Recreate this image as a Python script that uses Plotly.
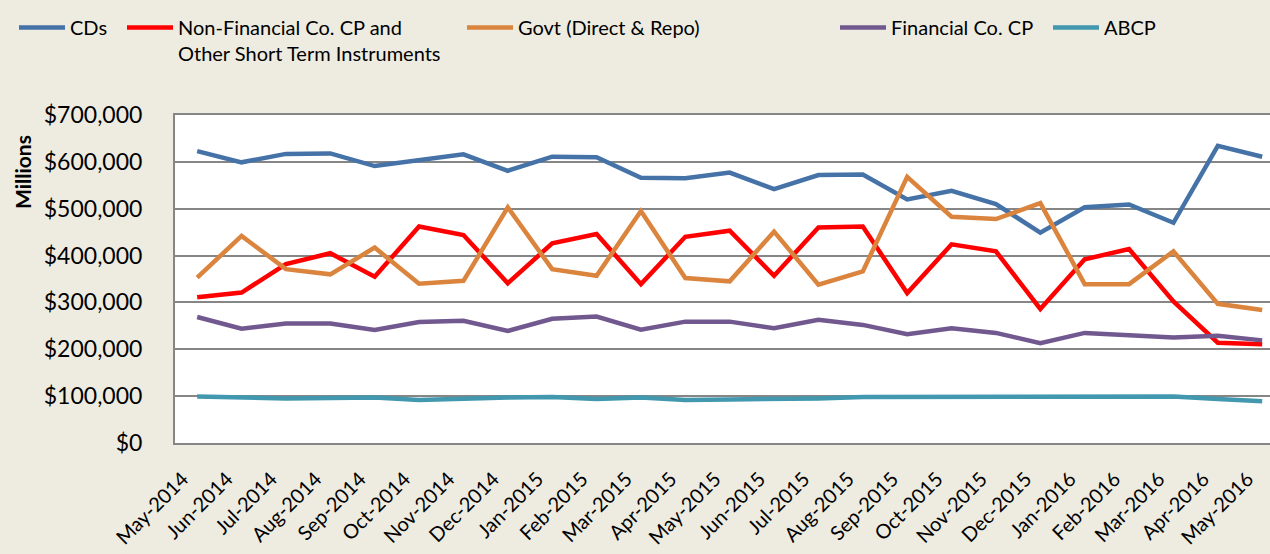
import plotly.graph_objects as go

months = ["May-2014", "Jun-2014", "Jul-2014", "Aug-2014", "Sep-2014", "Oct-2014", "Nov-2014",
          "Dec-2014", "Jan-2015", "Feb-2015", "Mar-2015", "Apr-2015", "May-2015", "Jun-2015",
          "Jul-2015", "Aug-2015", "Sep-2015", "Oct-2015", "Nov-2015", "Dec-2015", "Jan-2016",
          "Feb-2016", "Mar-2016", "Apr-2016", "May-2016"]

cds = [623000, 599000, 617000, 618000, 591000, 604000, 616000, 581000, 611000, 610000,
       566000, 565000, 577000, 542000, 572000, 573000, 520000, 538000, 510000, 449000,
       503000, 509000, 470000, 634000, 611000]
nonfin = [311000, 321000, 382000, 405000, 355000, 462000, 444000, 341000, 426000, 446000,
          339000, 440000, 453000, 357000, 460000, 462000, 320000, 424000, 409000, 286000,
          392000, 414000, 302000, 214000, 211000]
govt = [353000, 442000, 371000, 360000, 417000, 340000, 346000, 503000, 371000, 357000,
        495000, 352000, 345000, 451000, 338000, 366000, 568000, 483000, 478000, 512000,
        339000, 339000, 409000, 297000, 284000]
fincp = [269000, 244000, 255000, 255000, 241000, 258000, 261000, 239000, 265000, 270000,
         242000, 259000, 259000, 245000, 263000, 252000, 232000, 245000, 235000, 213000,
         235000, 231000, 225000, 229000, 219000]
abcp = [99000, 97000, 95000, 96000, 97000, 92000, 95000, 97000, 98000, 94000,
        97000, 92000, 93000, 93000, 95000, 98000, 98000, 97000, 98000, 99000,
        97000, 99000, 99000, 94000, 89000]

series_names = ["CDs", "Non-Financial Co. CP and<br>Other Short Term Instruments",
                "Govt (Direct & Repo)", "Financial Co. CP", "ABCP"]
series_values = [cds, nonfin, govt, fincp, abcp]
colors = ["#4572A7", "#FF0000", "#DB843D", "#71588F", "#4198AF"]
legend_ids = ["legend", "legend2", "legend3", "legend4", "legend5"]
legend_px = [22, 130, 470, 843, 1056]  # left edge of legend line in pixels

W, H = 1270, 554
L, R, T, B = 175, 0, 115, 111
plot_w = W - L - R
plot_h = H - T - B

FONT = "Lato"

fig = go.Figure()
xs = list(range(len(months)))
for name, vals, col, lid in zip(series_names, series_values, colors, legend_ids):
    fig.add_trace(go.Scatter(x=xs, y=vals, mode="lines", name=name, legend=lid,
                             line=dict(color=col, width=4.5)))

layout_legends = {}
for lid, px in zip(legend_ids, legend_px):
    layout_legends[lid] = dict(
        x=(px - 8) / W, xanchor="left", xref="container",
        y=1 - 8 / H, yanchor="top", yref="container",
        bgcolor="rgba(0,0,0,0)", borderwidth=0,
        font=dict(family=FONT, size=20, color="#000000"),
        valign="top", itemwidth=46,
    )

fig.update_layout(
    width=W, height=H,
    margin=dict(l=L, r=R, t=T, b=B, autoexpand=False),
    paper_bgcolor="#EEECE1",
    plot_bgcolor="#FFFFFF",
    showlegend=True,
    font=dict(family=FONT, size=21, color="#000000"),
    **layout_legends,
)

# pad tick labels so their ends sit a little away from the axis, as in the original
tick_text = [m + "\u00a0" * 4 for m in months]

fig.update_xaxes(
    range=[-0.5, -0.5 + plot_w / ((1262 - 197) / 24)],
    tickmode="array", tickvals=xs, ticktext=tick_text,
    tickangle=-45, tickfont=dict(family=FONT, size=20),
    ticklabeloverflow="allow",
    showgrid=False, zeroline=False,
    showline=True, linecolor="#868686", linewidth=2, mirror=True,
    ticks="", automargin=False,
)
fig.update_yaxes(
    range=[0, 700000], dtick=100000, tickprefix="$", tickformat=",",
    tickfont=dict(family=FONT, size=23),
    ticklabelstandoff=26,
    showgrid=True, gridcolor="#868686", gridwidth=2,
    zeroline=False,
    showline=True, linecolor="#868686", linewidth=2, mirror=True,
    ticks="", automargin=False,
)

fig.add_annotation(
    text="<b>Millions</b>", textangle=-90,
    xref="paper", yref="paper",
    x=(22 - L) / plot_w, y=(H - B - 172) / plot_h,
    xanchor="center", yanchor="middle", showarrow=False,
    font=dict(family=FONT, size=21, color="#000000"),
)

fig.write_html("out.html", config={"displayModeBar": False},
               post_script="document.body.style.margin='0';document.body.style.overflow='hidden';")
